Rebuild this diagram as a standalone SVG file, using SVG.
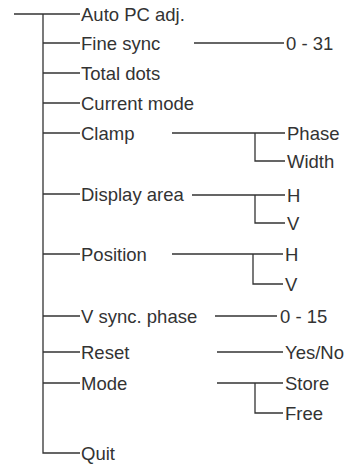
<svg xmlns="http://www.w3.org/2000/svg" width="358" height="466" viewBox="0 0 358 466">
<style>
.c{fill:none;stroke:#333;stroke-width:1.3}
text{font-family:"Liberation Sans",Arial,sans-serif;font-size:18.5px;fill:#333}
</style>
<rect width="358" height="466" fill="#fff"/>
<g id="connectors" class="c">
<path d="M14 14H80M43 14V453H80"/>
<path d="M43 43H80M43 73H80M43 103H80M43 133H80M43 194H80M43 254H80M43 316H80M43 352H80M43 383H80"/>
<path d="M194 43H284"/>
<path d="M172 133H285M255 133V161H285"/>
<path d="M192 195H285M255 195V223H285"/>
<path d="M172 254H283M253 254V284H283"/>
<path d="M215 316H277"/>
<path d="M217 352H283"/>
<path d="M217 383H283M255 383V413H283"/>
</g>
<g id="n-auto"><text x="81" y="20.5">Auto PC adj.</text></g>
<g id="n-fine"><text x="81" y="49.5">Fine sync</text></g>
<g id="n-fine-val"><text x="286" y="49.5">0 - 31</text></g>
<g id="n-total"><text x="81" y="79.5">Total dots</text></g>
<g id="n-current"><text x="81" y="109.5">Current mode</text></g>
<g id="n-clamp"><text x="81" y="139.5">Clamp</text></g>
<g id="n-phase"><text x="287" y="139.5">Phase</text></g>
<g id="n-width"><text x="287" y="167.5">Width</text></g>
<g id="n-display"><text x="81" y="200.5">Display area</text></g>
<g id="n-display-h"><text x="287" y="201.5">H</text></g>
<g id="n-display-v"><text x="287" y="229.5">V</text></g>
<g id="n-position"><text x="81" y="260.5">Position</text></g>
<g id="n-position-h"><text x="285" y="260.5">H</text></g>
<g id="n-position-v"><text x="285" y="290.5">V</text></g>
<g id="n-vsync"><text x="81" y="322.5">V sync. phase</text></g>
<g id="n-vsync-val"><text x="280" y="322.5">0 - 15</text></g>
<g id="n-reset"><text x="81" y="358.5">Reset</text></g>
<g id="n-yesno"><text x="285" y="358.5">Yes/No</text></g>
<g id="n-mode"><text x="81" y="389.5">Mode</text></g>
<g id="n-store"><text x="285" y="389.5">Store</text></g>
<g id="n-free"><text x="285" y="419.5">Free</text></g>
<g id="n-quit"><text x="81" y="459.5">Quit</text></g>
</svg>
